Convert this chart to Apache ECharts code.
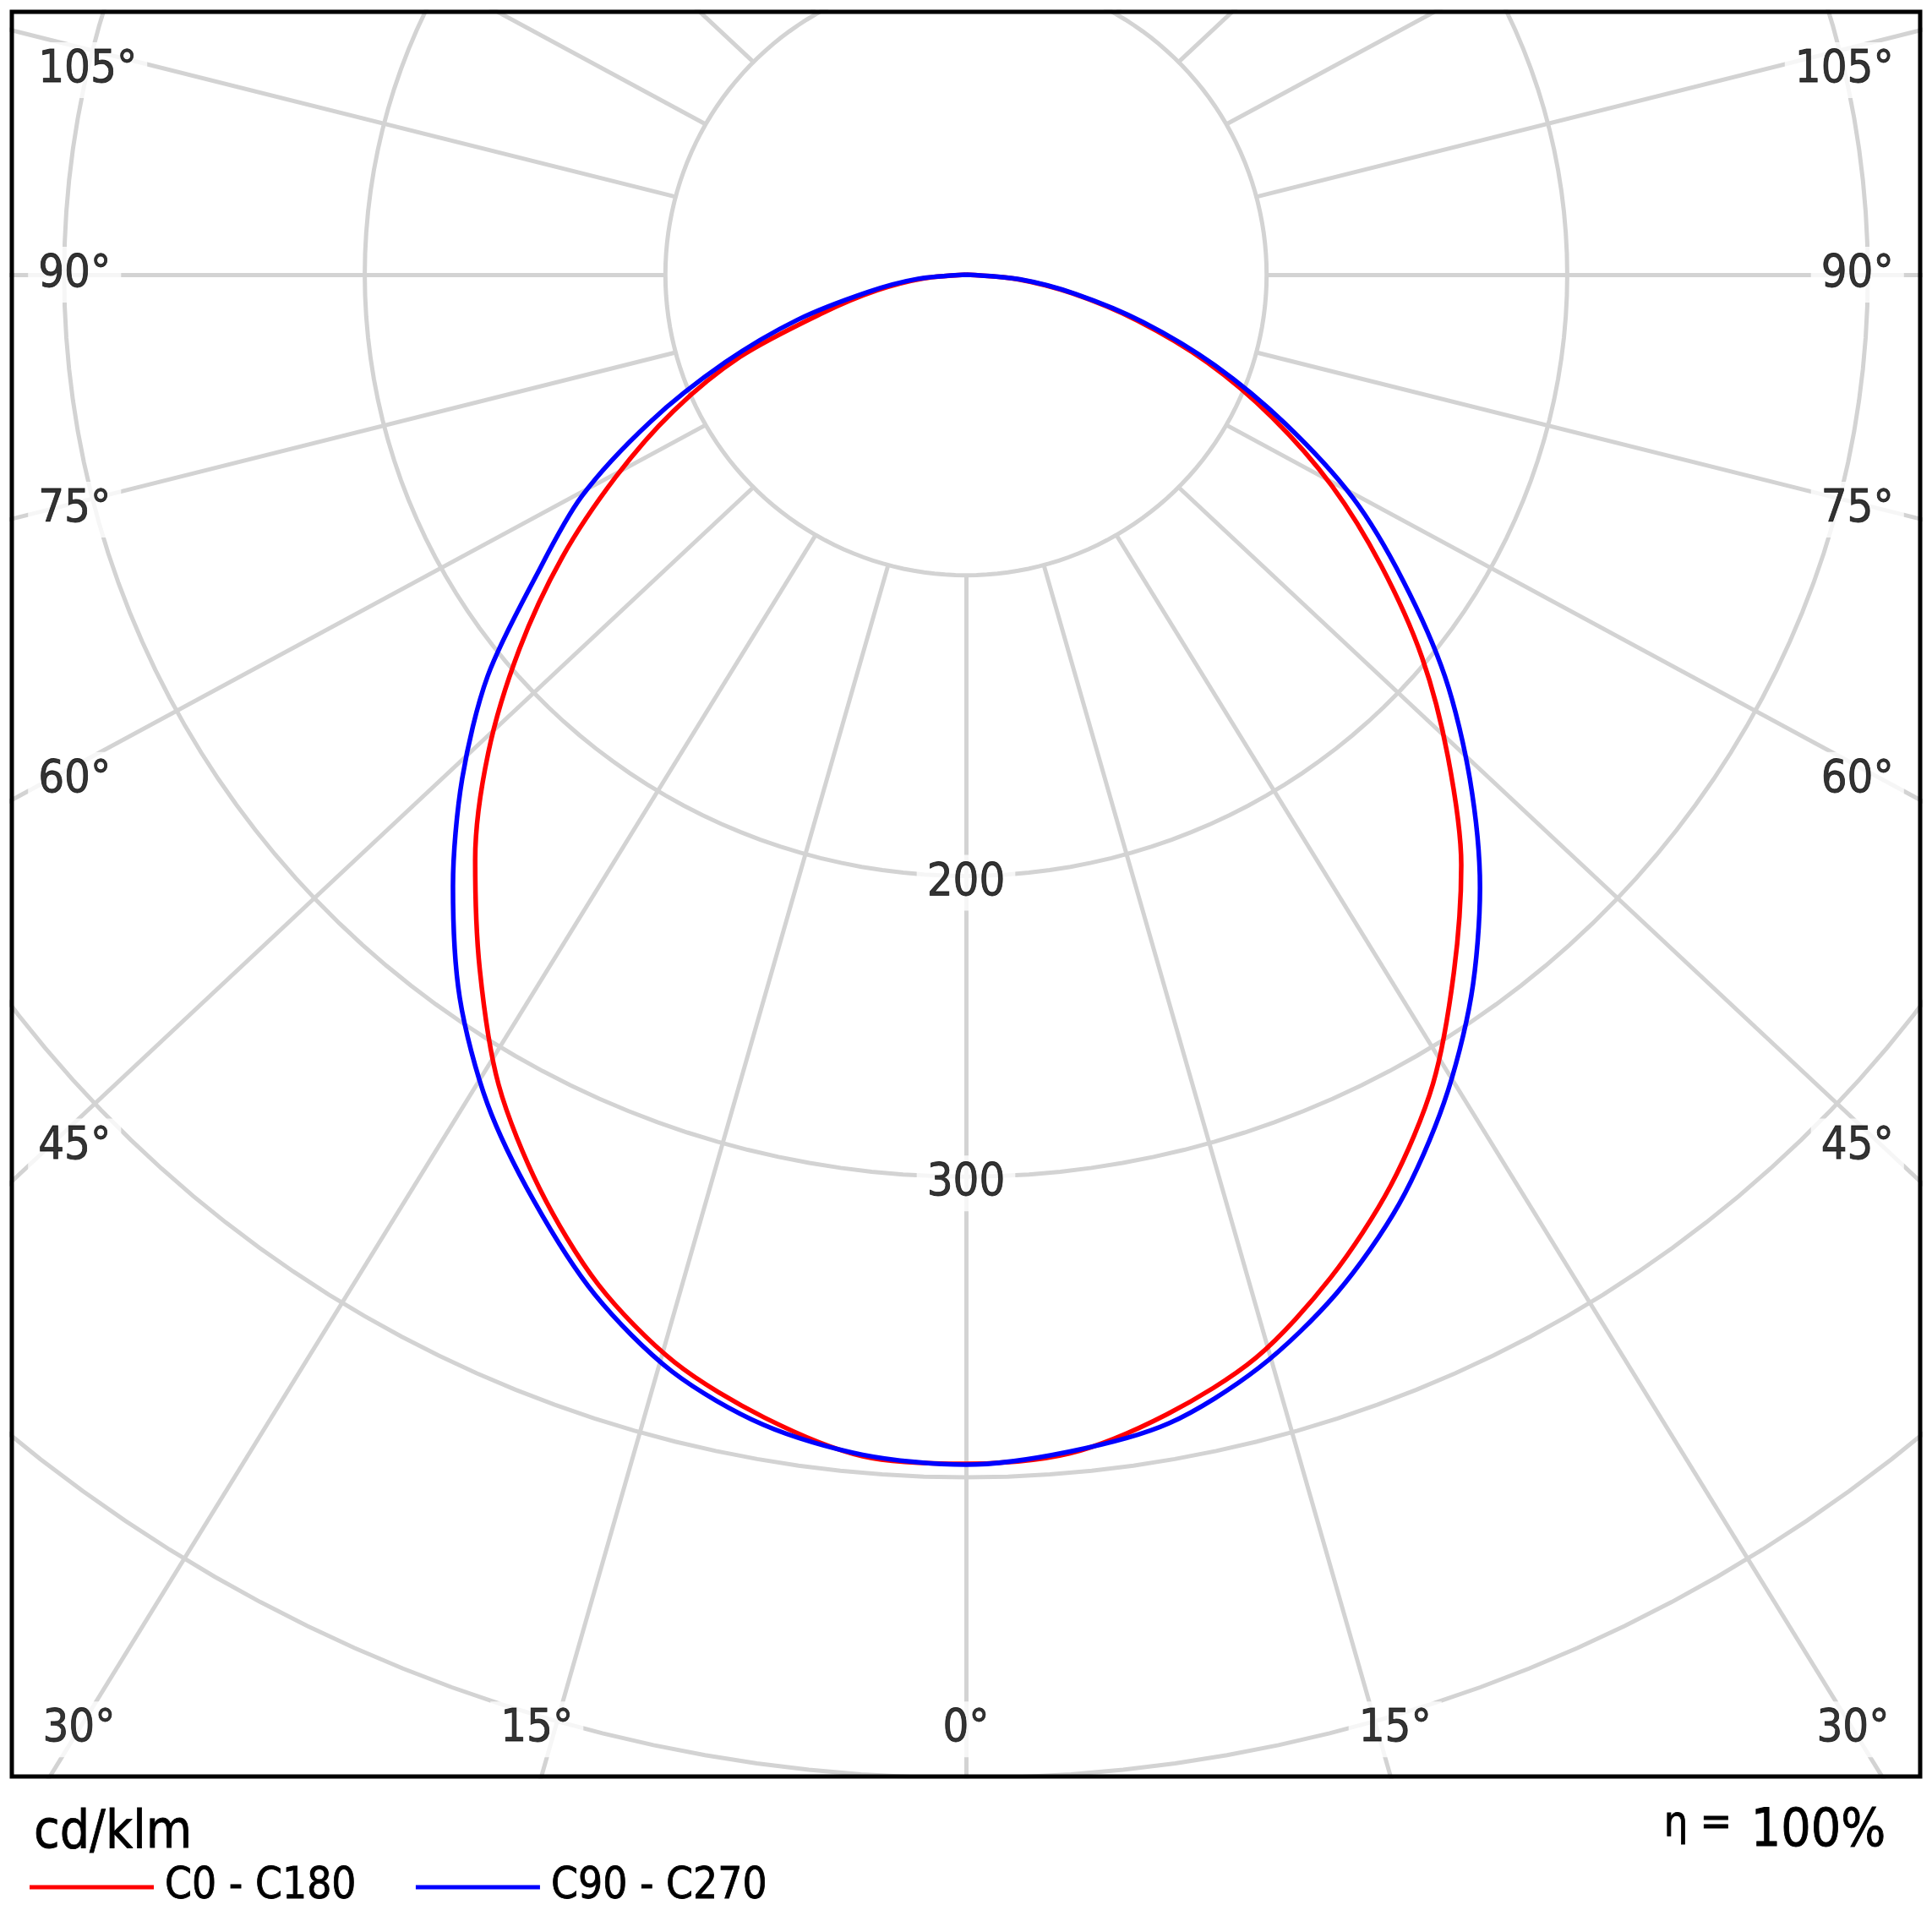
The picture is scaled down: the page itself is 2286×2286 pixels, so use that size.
<!DOCTYPE html>
<html>
<head>
<meta charset="utf-8">
<script src="https://cdn.jsdelivr.net/npm/echarts@6/dist/echarts.min.js"></script>
<style>
  html, body { margin: 0; padding: 0; background: #fff; }
  #main { width: 2286px; height: 2286px; }
</style>
</head>
<body>
<div id="main"></div>
<script>
// gamma angles (degrees from nadir) at which the curves were read
var angles = [0, 5, 10, 15, 20, 25, 30, 35, 40, 45, 50, 55, 60, 65, 70, 75, 80, 85, 90];
// cd/klm per half plane
var c0   = [395.5, 393.6, 384.9, 372.9, 354.9, 334.3, 310.7, 283.0, 256.3, 226.7, 198.0, 168.5, 140.6, 112.4, 85.5, 59.0, 36.0, 17.0, 0];
var c180 = [395.5, 394.5, 386.0, 374.5, 357.5, 335.5, 311.0, 282.0, 254.0, 224.7, 194.0, 164.0, 134.5, 107.4, 80.0, 49.5, 30.0, 14.0, 0];
var c90  = [395.8, 393.0, 388.0, 376.4, 360.5, 341.0, 318.0, 293.0, 266.0, 237.0, 208.0, 177.5, 148.7, 117.0, 88.0, 61.0, 37.0, 18.0, 0];
var c270 = [395.8, 394.0, 388.4, 377.7, 361.0, 340.0, 318.4, 293.6, 265.5, 237.0, 207.7, 174.5, 147.7, 115.9, 85.2, 58.0, 33.0, 16.0, 0];

var rings = [100, 200, 300, 400, 500];
var ringLabels = [200, 300];
var spokeAngles = [0, 15, 30, 45, 60, 75, 90, 105, 120, 135, 150, 165, 180];
var angleTicks = [0, 15, 30, 45, 60, 75, 90, 105];
var seriesNames = ['C0 - C180', 'C90 - C270'];
var unitText = 'cd/klm';
var etaText = '100%';

var FONT = "'DejaVu Sans Condensed', 'Liberation Sans Narrow', 'DejaVu Sans', sans-serif";
var GRID_COLOR = '#d3d3d3';
var SQUASH = 0.945;   // the spokes of the original lean slightly towards 90°
var INK = { color: '#000', textBorderColor: '#000', textBorderWidth: 0.8 };

function rad(d) { return d * Math.PI / 180; }
function pt(r, g, side) { return [side * r * Math.sin(rad(g)), -r * Math.cos(rad(g))]; }

// one C-plane pair: left half reversed, then right half
function curve(left, right) {
  var a = angles.map(function (g, i) { return pt(left[i], g, -1); }).reverse();
  var b = angles.map(function (g, i) { return pt(right[i], g, 1); }).slice(1);
  return a.concat(b);
}

function spoke(g, side) {
  var outer = pt(700, g, side);
  outer[1] *= SQUASH;
  return [pt(rings[0], g, side), outer];
}

function ink(extra) { return Object.assign({}, INK, extra); }

var ringData = rings.map(function (r) {
  var pts = [];
  for (var a = 0; a <= 360; a += 2) pts.push(pt(r, a, 1));
  return { coords: pts };
});

var spokeData = [];
spokeAngles.forEach(function (g) {
  var sides = (g === 0 || g === 180) ? [1] : [-1, 1];
  sides.forEach(function (s) { spokeData.push({ coords: spoke(g, s) }); });
});

var tickData = [];
angleTicks.forEach(function (g) {
  var sides = g === 0 ? [1] : [-1, 1];
  sides.forEach(function (s) {
    var sp = spoke(g, s), p1 = sp[0], p2 = sp[1], x, y, align;
    if (g < 45) {
      y = -483.8;
      x = g === 0 ? 0 : p1[0] + (y - p1[1]) / (p2[1] - p1[1]) * (p2[0] - p1[0]);
      if (g === 15) x += s * 6;
      align = 'center';
    } else {
      var xt = s * 305;
      y = p1[1] + (xt - p1[0]) / (p2[0] - p1[0]) * (p2[1] - p1[1]);
      y = Math.min(y, 68);
      x = s * 312;
      align = s < 0 ? 'left' : 'right';
    }
    tickData.push({ value: [x, y], name: g + '°', label: { align: align } });
  });
});
ringLabels.forEach(function (r) {
  tickData.push({ value: [0, -r], name: String(r), label: { align: 'center', offset: [0, 8] } });
});

var chart = echarts.init(document.getElementById('main'), null, { renderer: 'canvas' });

var option = {
  animation: false,
  backgroundColor: '#fff',
  title: [
    { text: unitText, left: 40, top: 2139, padding: 0,
      textStyle: ink({ fontFamily: FONT, fontSize: 62, fontWeight: 'normal' }) },
    { text: etaText, right: 54, top: 2137, padding: 0,
      textStyle: ink({ fontFamily: FONT, fontSize: 62, fontWeight: 'normal' }) },
    { text: 'η =', right: 236, top: 2134, padding: 0,
      textStyle: ink({ fontFamily: FONT, fontSize: 50, fontWeight: 'normal' }) }
  ],
  legend: {
    left: 35, top: 2207, padding: 0,
    icon: 'rect', itemWidth: 147, itemHeight: 5, itemGap: 70,
    selectedMode: false,
    data: seriesNames,
    textStyle: ink({ fontFamily: FONT, fontSize: 51, padding: [0, 0, 0, 8] })
  },
  grid: {
    left: 14, top: 14, width: 2258, height: 2088,
    show: true, borderColor: '#000', borderWidth: 5, z: 20
  },
  xAxis: { type: 'value', min: -317.4, max: 317.4, show: false },
  yAxis: { type: 'value', min: -499.5, max: 87.4, show: false },
  series: [
    {
      type: 'lines', coordinateSystem: 'cartesian2d', polyline: true, clip: true, z: 1,
      silent: true, data: ringData,
      lineStyle: { color: GRID_COLOR, width: 5, opacity: 1 }
    },
    {
      type: 'lines', coordinateSystem: 'cartesian2d', clip: true, z: 1,
      silent: true, data: spokeData,
      lineStyle: { color: GRID_COLOR, width: 5, opacity: 1 }
    },
    {
      type: 'scatter', z: 4, silent: true, symbolSize: 1,
      itemStyle: { color: 'rgba(0,0,0,0)' },
      data: tickData,
      label: ink({
        show: true, position: 'inside', formatter: '{b}',
        fontFamily: FONT, fontSize: 54,
        backgroundColor: '#fff', padding: [6, 12]
      })
    },
    {
      name: seriesNames[0], type: 'line', z: 6, symbol: 'none', smooth: 0.3,
      clip: true, data: curve(c180, c0),
      lineStyle: { color: '#ff0000', width: 5.5 }, itemStyle: { color: '#ff0000' }
    },
    {
      name: seriesNames[1], type: 'line', z: 7, symbol: 'none', smooth: 0.3,
      clip: true, data: curve(c270, c90),
      lineStyle: { color: '#0000ff', width: 5.5 }, itemStyle: { color: '#0000ff' }
    }
  ]
};
chart.setOption(option);
</script>
</body>
</html>
